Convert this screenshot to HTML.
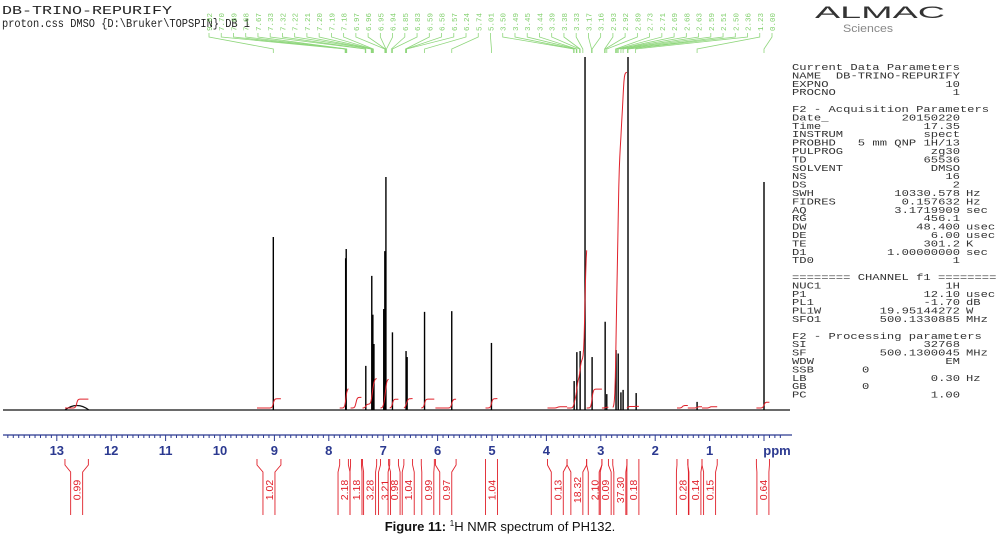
<!DOCTYPE html>
<html><head><meta charset="utf-8">
<style>
html,body{margin:0;padding:0;background:#fff;}
svg{display:block;}
.mono{font-family:"Liberation Mono",monospace;}
</style></head>
<body>
<svg id="chart" width="1006" height="539" viewBox="0 0 1006 539" xmlns="http://www.w3.org/2000/svg">
  <g>
    <text class="mono" x="2" y="14" font-size="11.5" fill="#222" textLength="170" lengthAdjust="spacingAndGlyphs">DB-TRINO-REPURIFY</text>
    <text class="mono" x="2" y="27" font-size="11.5" fill="#222" textLength="248" lengthAdjust="spacingAndGlyphs">proton.css DMSO {D:\Bruker\TOPSPIN} DB 1</text>
    <text x="815" y="18" font-family="Liberation Sans, sans-serif" font-size="17" fill="#333" textLength="130" lengthAdjust="spacingAndGlyphs">ALMAC</text>
    <text x="843" y="32" font-family="Liberation Sans, sans-serif" font-size="11" fill="#888" textLength="50" lengthAdjust="spacingAndGlyphs">Sciences</text>
  </g>
  <g id="peaklabels"></g>
  <g id="spectrum"></g>
  <g id="axis"></g>
  <g id="integrals"></g>
  <g id="params"></g>
  <text x="500" y="531" text-anchor="middle" font-family="Liberation Sans, sans-serif" font-size="13" fill="#111"><tspan font-weight="bold">Figure 11:</tspan> <tspan font-size="8" dy="-5">1</tspan><tspan dy="5">H NMR spectrum of PH132.</tspan></text>
</svg>
<script>
// ---- data ----
var peakPpm = [9.02,7.69,7.68,7.32,7.21,7.19,7.17,6.99,6.97,6.95,6.83,6.58,6.56,6.24,5.74,5.01,3.49,3.44,3.38,3.29,3.16,2.92,2.89,2.72,2.68,2.63,2.59,2.50,2.35,1.23,0.00];
var peakHeight = [49,43,45.6,12.5,38,27,18.7,28.6,45,66,22,16.7,15,27.8,28,19,8.2,16.4,16.7,100,15,25,4.5,17,16,5,5.7,100,4.8,2.3,64.6];
var integralValues = ["0.99","1.02","2.18","1.18","3.28","3.21","0.98","1.04","0.99","0.97","1.04","0.13","18.32","2.10","0.09","37.30","0.18","0.28","0.14","0.15","0.64"];
var integralFrom = [12.85,9.32,7.80,7.60,7.38,7.05,6.88,6.62,6.30,6.04,5.12,3.98,3.62,3.26,2.98,2.78,2.52,1.60,1.40,1.14,0.14];
var integralTo   = [12.42,8.88,7.64,7.40,7.12,6.90,6.72,6.46,6.06,5.66,4.90,3.62,3.26,2.98,2.86,2.52,2.30,1.40,1.14,0.86,-0.10];
var axisTicks = [13,12,11,10,9,8,7,6,5,4,3,2,1];
var peakLabelText = ["9.02","7.70","7.69","7.68","7.67","7.33","7.32","7.22","7.21","7.20","7.19","7.18","6.97","6.96","6.95","6.94","6.85","6.83","6.59","6.58","6.57","6.24","5.74","5.01","3.50","3.49","3.45","3.44","3.39","3.38","3.33","3.17","3.16","2.93","2.92","2.89","2.73","2.71","2.69","2.68","2.63","2.59","2.51","2.50","2.36","1.23","0.00"];
var paramRows = [
 ["Current Data Parameters","",""],["NAME","DB-TRINO-REPURIFY",""],["EXPNO","10",""],["PROCNO","1",""],["","",""],
 ["F2 - Acquisition Parameters","",""],["Date_","20150220",""],["Time","17.35",""],["INSTRUM","spect",""],["PROBHD","5 mm QNP 1H/13",""],
 ["PULPROG","zg30",""],["TD","65536",""],["SOLVENT","DMSO",""],["NS","16",""],["DS","2",""],["SWH","10330.578","Hz"],
 ["FIDRES","0.157632","Hz"],["AQ","3.1719909","sec"],["RG","456.1",""],["DW","48.400","usec"],["DE","6.00","usec"],
 ["TE","301.2","K"],["D1","1.00000000","sec"],["TD0","1",""],["","",""],["======== CHANNEL f1 ========","",""],
 ["NUC1","1H",""],["P1","12.10","usec"],["PL1","-1.70","dB"],["PL1W","19.95144272","W"],["SFO1","500.1330885","MHz"],["","",""],
 ["F2 - Processing parameters","",""],["SI","32768",""],["SF","500.1300045","MHz"],["WDW","EM",""],["SSB","0",""],["LB","0.30","Hz"],["GB","0",""],["PC","1.00",""]
];
// ---- scales ----
var NS="http://www.w3.org/2000/svg";
var BASE=410, TOPY=57;
function xOf(ppm){return 764-54.4*ppm;}
function yOf(h){return BASE-(BASE-TOPY)*Math.min(h,100)/100;}
function mk(tag,attrs,parent){var e=document.createElementNS(NS,tag);for(var k in attrs)e.setAttribute(k,attrs[k]);parent.appendChild(e);return e;}

// spectrum
var sp=document.getElementById('spectrum');
var base=mk('path',{d:'M3,'+BASE+' L790,'+BASE,stroke:'#111','stroke-width':1.2,fill:'none'},sp);


var bx=xOf(12.63);
var bump=mk('path',{d:'M'+(bx-12)+','+BASE+' Q'+bx+','+(BASE-9)+' '+(bx+12)+','+BASE,stroke:'#111','stroke-width':1.2,fill:'none'},sp);


for(var i=0;i<peakPpm.length;i++){
  var x=xOf(peakPpm[i]);
  var p=mk('line',{x1:x,x2:x,y1:BASE,y2:yOf(peakHeight[i]),stroke:'#000','stroke-width':1.4},sp);
  
  
}
// integral curves in spectrum (cumulative of peaks in range)
for(var j=0;j<integralValues.length;j++){
  var x1=xOf(integralFrom[j]), x2=xOf(integralTo[j]);
  var hgt=Math.min(parseFloat(integralValues[j])*9,336);
  var inside=[];
  for(var i2=0;i2<peakPpm.length;i2++){
    if(peakPpm[i2]<=integralFrom[j]&&peakPpm[i2]>=integralTo[j])inside.push([xOf(peakPpm[i2]),peakHeight[i2]]);
  }
  if(!inside.length)inside.push([(x1+x2)/2,1]);
  var tot=0;inside.forEach(function(q){tot+=q[1];});
  var d='';
  var steps=Math.max(10,Math.round((x2-x1)*2));
  for(var s=0;s<=steps;s++){
    var xx=x1+(x2-x1)*s/steps, f=0;
    inside.forEach(function(q){f+=q[1]/tot/(1+Math.exp(-(xx-q[0])/0.6));});
    var yy=BASE-2-hgt*f;
    d+=(s?'L':'M')+xx.toFixed(1)+','+yy.toFixed(1);
  }
  var c=mk('path',{d:d,stroke:'#e0202a','stroke-width':1,fill:'none'},sp);
  
  
}

// peak labels (green)
var pl=document.getElementById('peaklabels');
var n=peakLabelText.length, lx0=209, lx1=772;
for(var k=0;k<n;k++){
  var lx=lx0+(lx1-lx0)*k/(n-1);
  var t=mk('text',{x:0,y:0,transform:'translate('+(lx+3)+',31) rotate(-90)','font-family':'Liberation Mono, monospace','font-size':7.5,fill:'#7fcf6a'},pl);
  t.textContent=peakLabelText[k];
  
  
  var px=xOf(parseFloat(peakLabelText[k]));
  var ln=mk('path',{d:'M'+lx+',33 L'+lx+',37 L'+px+',49 L'+px+',53',stroke:'#8fd67c','stroke-width':0.8,fill:'none'},pl);
  
  
}

// axis
var ax=document.getElementById('axis');
var al=mk('line',{x1:3,x2:792,y1:435,y2:435,stroke:'#2b3990','stroke-width':1.2},ax);


for(var m=-3;m<=140;m++){
  var v=m/10, xt=xOf(v);
  if(xt<4||xt>792)continue;
  var major=(m%10===0);
  mk('line',{x1:xt,x2:xt,y1:435,y2:major?441:438,stroke:'#2b3990','stroke-width':1},ax);
}
for(var a=0;a<axisTicks.length;a++){
  var tl=mk('text',{x:xOf(axisTicks[a]),y:455,'text-anchor':'middle','font-family':'Liberation Sans, sans-serif','font-weight':'bold','font-size':13,fill:'#2b3990'},ax);
  tl.textContent=axisTicks[a];
  
  
}
var pu=mk('text',{x:777,y:455,'text-anchor':'middle','font-family':'Liberation Sans, sans-serif','font-weight':'bold','font-size':13,fill:'#2b3990'},ax);
pu.textContent='ppm';



// integral labels
var ig=document.getElementById('integrals');
for(var q=0;q<integralValues.length;q++){
  var a1=xOf(integralFrom[q]), a2=xOf(integralTo[q]), cx=(a1+a2)/2;
  var b1=cx-6, b2=cx+6;
  var br=mk('path',{d:'M'+a1+',459 L'+a1+',465 L'+b1+',472 L'+b1+',515 M'+a2+',459 L'+a2+',465 L'+b2+',472 L'+b2+',515',stroke:'#e0202a','stroke-width':0.9,fill:'none'},ig);
  
  
  var it=mk('text',{x:0,y:0,transform:'translate('+(cx+4)+',490) rotate(-90)','text-anchor':'middle','font-family':'Liberation Sans, sans-serif','font-size':10.5,fill:'#e0202a'},ig);
  it.textContent=integralValues[q];
  
  
}

// parameter panel
var pp=document.getElementById('params');
var CW=7.3;
for(var r=0;r<paramRows.length;r++){
  var y=70+r*8.4, row=paramRows[r];
  if(row[0]){
    var kk=mk('text',{x:792,y:y,'font-family':'Liberation Mono, monospace','font-size':9.5,fill:'#333',textLength:row[0].length*CW,lengthAdjust:'spacingAndGlyphs'},pp);
    kk.textContent=row[0];
    
    
  }
  if(row[1]){
    var isLeft=(row[0]==='SSB'||row[0]==='GB');
    var vv=mk('text',{x:isLeft?862:960,y:y,'text-anchor':isLeft?'start':'end','font-family':'Liberation Mono, monospace','font-size':9.5,fill:'#333',textLength:row[1].length*CW,lengthAdjust:'spacingAndGlyphs'},pp);
    vv.textContent=row[1];
    
    
  }
  if(row[2]){
    var uu=mk('text',{x:966,y:y,'font-family':'Liberation Mono, monospace','font-size':9.5,fill:'#333',textLength:row[2].length*CW,lengthAdjust:'spacingAndGlyphs'},pp);
    uu.textContent=row[2];
    
    
  }
}
</script>
</body></html>
